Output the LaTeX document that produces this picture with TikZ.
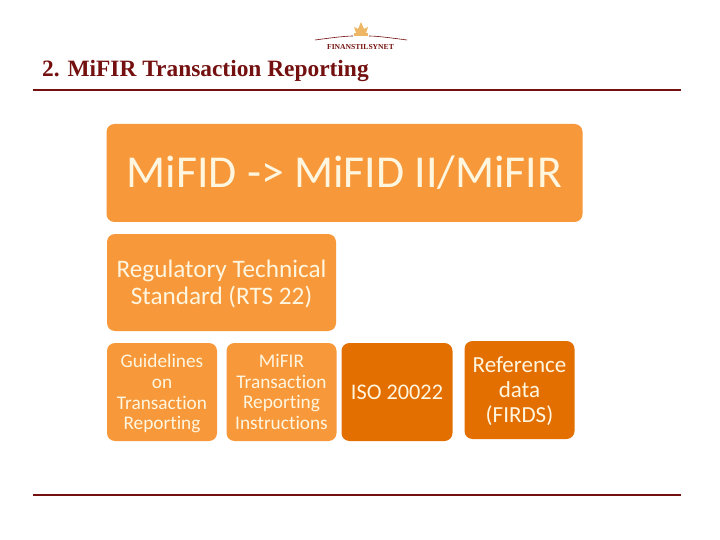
\documentclass[tikz,border=0pt]{standalone}
\usepackage{fontspec}
\setmainfont[Ligatures=NoCommon]{Carlito}
\newfontfamily\titlefont[Ligatures=NoCommon]{Liberation Serif}
\newcommand{\toppad}[1]{\rule{0pt}{#1pt}}
\definecolor{lightor}{HTML}{F7983A}
\definecolor{darkor}{HTML}{E36F00}
\definecolor{rulered}{HTML}{74100F}
\definecolor{boxtext}{HTML}{FFF6E0}
\definecolor{crown}{HTML}{EDB766}
\tikzset{
  orbox/.style={fill=lightor,rounded corners=8pt,inner sep=0pt,align=center,text=boxtext,anchor=center},
  darkbox/.style={orbox,fill=darkor},
  rulerline/.style={draw=rulered,line width=1.5pt},
  logoline/.style={draw=rulered,line width=0.6pt},
}
\begin{document}
\begin{tikzpicture}[x=1pt,y=-1pt]
\useasboundingbox (0,0) rectangle (720,540);
\fill[white] (0,0) rectangle (720,540);
% logo
\draw[logoline] (315,40) .. controls (330,38) and (345,36) .. (353,36);
\draw[logoline] (369,36) .. controls (377,36) and (392,38) .. (407,40);
\fill[crown] (354,27) -- (356,33) -- (366,33) -- (368,27) -- (364,29) -- (361,22) -- (358,29) -- cycle;
\fill[crown] (354,33.5) rectangle (368,36);
\node[text=rulered,font=\titlefont\bfseries\fontsize{7.6}{8}\selectfont,inner sep=0pt] (logo) at (360.5,47) {FINANSTILSYNET};
% title
\node[anchor=base west,inner sep=0pt,text=rulered,font=\titlefont\bfseries\fontsize{23.4}{25}\selectfont] (title) at (42,77) {2. MiFIR Transaction Reporting};
\coordinate (r1a) at (33,90); \coordinate (r1b) at (681,90);
\coordinate (r2a) at (33,495); \coordinate (r2b) at (681,495);
\draw[rulerline] (r1a) -- (r1b);
\draw[rulerline] (r2a) -- (r2b);
% boxes
\node[orbox,minimum width=476pt,minimum height=98pt,font=\fontsize{45.7}{50}\selectfont] (top) at (344.5,173) {MiFID -> MiFID II/MiFIR};
\node[orbox,minimum width=229pt,minimum height=97pt,font=\fontsize{25.2}{27}\selectfont] (rts) at (221.5,282.5) {\toppad{21}Regulatory Technical\\Standard (RTS 22)};
\node[orbox,minimum width=110pt,minimum height=98pt,font=\fontsize{19.3}{20.7}\selectfont] (guide) at (162,392) {\toppad{17}Guidelines\\on\\Transaction\\Reporting};
\node[orbox,minimum width=110pt,minimum height=98pt,font=\fontsize{19.3}{20.7}\selectfont] (instr) at (281.5,392) {MiFIR\\Transaction\\Reporting\\Instructions};
\node[darkbox,minimum width=111pt,minimum height=98pt,font=\fontsize{22.3}{26}\selectfont] (iso) at (397,392) {ISO 20022};
\node[darkbox,minimum width=110pt,minimum height=98pt,font=\fontsize{23}{25}\selectfont] (ref) at (519.5,390) {\toppad{19}Reference\\data\\(FIRDS)};
\end{tikzpicture}
\end{document}
